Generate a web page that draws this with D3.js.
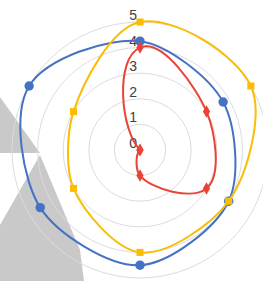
<!DOCTYPE html>
<html>
<head>
<meta charset="utf-8">
<script src="https://cdn.jsdelivr.net/npm/d3@7"></script>
<style>
  body { margin: 0; background: #fff; }
  svg { display: block; }
</style>
</head>
<body>
<svg id="radar" width="263" height="281"></svg>
<script>
const width = 263;
const height = 281;

// data
const categories = ["c1", "c2", "c3", "c4", "c5", "c6"];
const blueValues = [4.25, 3.75, 4, 4.5, 4.5, 5];
const yellowValues = [5, 5, 4, 4, 3, 3];
const redValues = [4, 3, 3, 1, 0, 0];
const tickValues = [0, 1, 2, 3, 4, 5];

const cx = 140;
const cy = 150;
const outer = 128;

const svg = d3.select("#radar");

// grey shapes behind the chart
const shade = svg.append("g").attr("fill", "#c9c9c9");
shade.append("path").attr("d", "M0,97L40,153L0,153Z");
shade.append("path").attr("d", "M40,155L0,225L0,281L84,281L80,250Z");

const angle = d3.scaleBand()
    .domain(categories)
    .range([0, 2 * Math.PI]);

const r = d3.scaleLinear()
    .domain([0, 5])
    .range([0, outer]);

// closed spline: control points lie on the line through each point that is
// perpendicular to the bisector of its two neighbours, at a fraction of each segment
function curveJointClosed(context) {
    const f = 0.27;
    let pts;
    return {
        areaStart() {},
        areaEnd() {},
        lineStart() { pts = []; },
        point(x, y) { pts.push([+x, +y]); },
        lineEnd() {
            const n = pts.length;
            const ctrl = pts.map((p, i) => {
                const prev = pts[(i - 1 + n) % n];
                const next = pts[(i + 1) % n];
                const dl = Math.hypot(prev[0] - p[0], prev[1] - p[1]) * f;
                const dr = Math.hypot(next[0] - p[0], next[1] - p[1]) * f;
                const al = Math.atan2(prev[1] - p[1], prev[0] - p[0]);
                const ar = Math.atan2(next[1] - p[1], next[0] - p[0]);
                let j = Math.PI / 2 + (al + ar) / 2;
                let diff = Math.abs(al - j) % (2 * Math.PI);
                if (diff > Math.PI) diff = 2 * Math.PI - diff;
                if (diff > Math.PI / 2) j -= Math.PI;
                return {
                    left: [p[0] + Math.cos(j) * dl, p[1] + Math.sin(j) * dl],
                    right: [p[0] - Math.cos(j) * dr, p[1] - Math.sin(j) * dr]
                };
            });
            context.moveTo(pts[0][0], pts[0][1]);
            for (let i = 0; i < n; i++) {
                const k = (i + 1) % n;
                context.bezierCurveTo(
                    ctrl[i].right[0], ctrl[i].right[1],
                    ctrl[k].left[0], ctrl[k].left[1],
                    pts[k][0], pts[k][1]);
            }
            context.closePath();
        }
    };
}

const g = svg.append("g")
    .attr("transform", `translate(${cx},${cy})`);

// grid circles
g.selectAll(".grid")
    .data(tickValues.filter(d => d > 0))
    .enter()
    .append("circle")
    .attr("class", "grid")
    .attr("r", d => r(d))
    .attr("fill", "none")
    .attr("stroke", "#dcdcdc")
    .attr("stroke-width", 1);

// tick labels
g.selectAll(".tick-label")
    .data(tickValues)
    .enter()
    .append("text")
    .attr("class", "tick-label")
    .attr("x", -3)
    .attr("y", d => -r(d) - 2)
    .attr("text-anchor", "end")
    .attr("font-family", "Liberation Sans, Arial, sans-serif")
    .attr("font-size", 14)
    .attr("fill", "#404040")
    .text(d => d);

const series = [
    { name: "blue", values: blueValues, color: "#4472c4", symbol: d3.symbolCircle, size: 70 },
    { name: "yellow", values: yellowValues, color: "#fbbc04", symbol: d3.symbolSquare, size: 50 },
    { name: "red", values: redValues, color: "#ea4335", symbol: d3.symbolDiamond, size: 45 }
];

const line = d3.lineRadial()
    .angle((d, i) => angle(categories[i]))
    .radius(d => r(d))
    .curve(curveJointClosed);

series.forEach(s => {
    const sg = g.append("g").attr("class", "series-" + s.name);

    sg.append("path")
        .datum(s.values)
        .attr("d", line)
        .attr("fill", "none")
        .attr("stroke", s.color)
        .attr("stroke-width", 2);

    sg.selectAll(".pt")
        .data(s.values)
        .enter()
        .append("path")
        .attr("class", "pt")
        .attr("d", d3.symbol().type(s.symbol).size(s.size))
        .attr("transform", (d, i) => {
            const p = d3.pointRadial(angle(categories[i]), r(d));
            return `translate(${p[0]},${p[1]})`;
        })
        .attr("fill", s.color);
});
</script>
</body>
</html>
